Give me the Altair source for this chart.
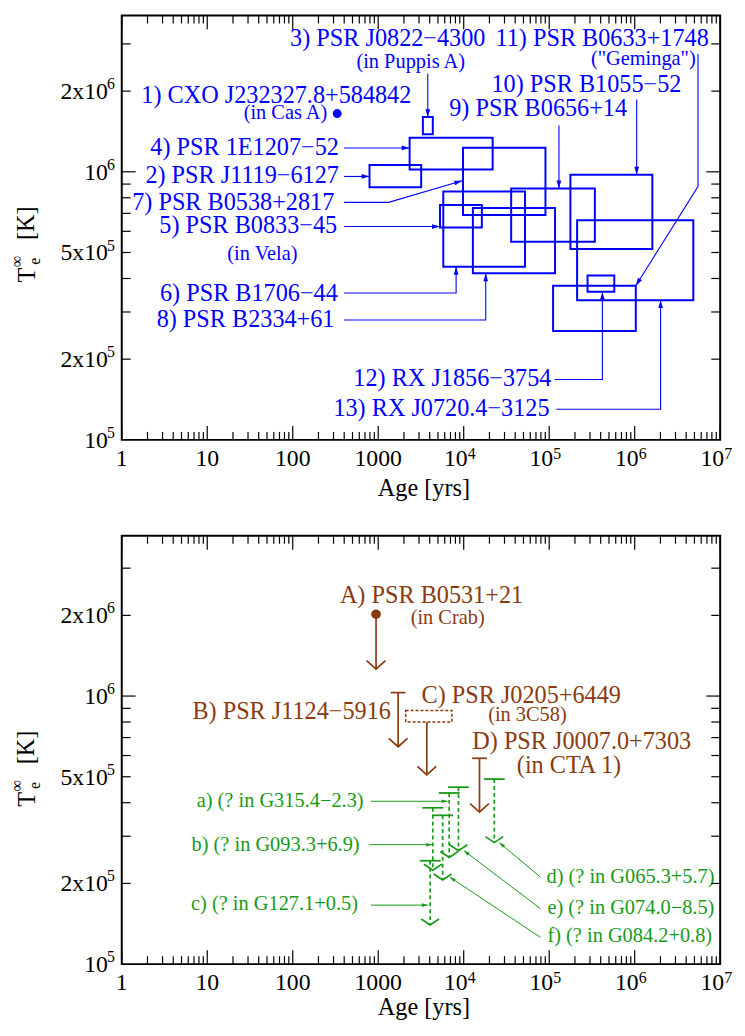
import math
import altair as alt
import pandas as pd

FONT = "Liberation Serif"
BLUE = "#0000ff"
BROWN = "#8b3a0e"
GREEN = "#189a18"

W = 605
H_TOP = 429
H_BOT = 433
DEC_PX = 271.0  # pixels per decade of temperature

FS_MAIN = 24.5
FS_SUB = 20.6
FS_TICK = 24
FS_SUP = 16

# ---------------- top panel data ----------------
box_name = ["2", "3", "4", "5", "6", "7", "8", "9", "10", "11", "12", "13"]
box_age_lo = [791, 3330, 2330, 5280, 5770, 9810, 12800, 35900, 177000, 111000, 281000, 212000]
box_age_hi = [3180, 4350, 21800, 16300, 52100, 90400, 117000, 342000, 1.61e6, 1.03e6, 577000, 4.85e6]
box_t_lo = [8.75e5, 1.38e6, 1.02e6, 6.2e5, 4.42e5, 6.9e5, 4.18e5, 5.48e5, 5.15e5, 2.55e5, 3.57e5, 3.32e5]
box_t_hi = [1.06e6, 1.60e6, 1.34e6, 7.52e5, 8.44e5, 1.23e6, 7.33e5, 8.67e5, 9.75e5, 3.76e5, 4.10e5, 6.60e5]

casa_age = [331]
casa_t = [1.65e6]

top_main_text = ["1) CXO J232327.8+584842", "3) PSR J0822\u22124300", "11) PSR B0633+1748",
                 "10) PSR B1055\u221252", "9) PSR B0656+14", "4) PSR 1E1207\u221252",
                 "2) PSR J1119\u22126127", "7) PSR B0538+2817", "5) PSR B0833\u221245",
                 "6) PSR B1706\u221244", "8) PSR B2334+61", "12) RX J1856\u22123754",
                 "13) RX J0720.4\u22123125"]
top_main_age = [2440, 17960, 7.36e6, 3.52e6, 8.15e5, 347, 347, 306, 331, 337, 308, 1.06e5, 1.01e5]
top_main_t = [1.92e6, 3.12e6, 3.12e6, 2.11e6, 1.71e6, 1.227e6, 9.61e5, 7.62e5, 6.28e5,
              3.50e5, 2.79e5, 1.68e5, 1.30e5]

top_sub_text = ["(in Cas A)", "(in Puppis A)", "(\"Geminga\")", "(in Vela)"]
top_sub_age = [254, 10360, 5.17e6, 114]
top_sub_t = [1.65e6, 2.57e6, 2.63e6, 4.94e5]

top_conn_id = ["3", "3", "4", "4", "2", "2", "7", "7", "7", "5", "5", "6", "6", "6",
               "8", "8", "8", "9", "9", "10", "10", "11", "11", "11", "12", "12", "12",
               "13", "13", "13"]
top_conn_age = [3800, 3800, 399, 2330, 399, 791, 399, 1322, 9600, 399, 5280, 399, 8150, 8150,
                399, 18100, 18100, 1.30e5, 1.30e5, 1.055e6, 1.055e6, 5.5e6, 5.5e6, 1.03e6,
                1.16e5, 4.19e5, 4.19e5, 1.21e5, 2.01e6, 2.01e6]
top_conn_t = [2.32e6, 1.60e6, 1.227e6, 1.227e6, 9.61e5, 9.61e5, 7.69e5, 7.69e5, 9.26e5,
              6.25e5, 6.25e5, 3.53e5, 3.53e5, 4.42e5, 2.80e5, 2.80e5, 4.18e5, 1.49e6, 8.67e5,
              1.86e6, 9.75e5, 2.75e6, 8.81e5, 3.76e5, 1.68e5, 1.68e5, 3.57e5, 1.30e5, 1.30e5,
              3.32e5]

# ---------------- bottom panel data ----------------
crab_age = [943]
crab_t = [2.02e6]

brown_age = [943, 1710, 3700, 15300]
brown_top = [2.02e6, 1.03e6, 8.0e5, 5.86e5]
brown_tip = [1.26e6, 6.47e5, 5.08e5, 3.69e5]
brown_cap_age = [1710, 15300]
brown_cap_t = [1.03e6, 5.86e5]

c58_age_lo = [2096]
c58_age_hi = [7270]
c58_t_lo = [8.0e5]
c58_t_hi = [8.83e5]

brown_left_text = ["A) PSR B0531+21", "C) PSR J0205+6449", "D) PSR J0007.0+7303", "(in CTA 1)"]
brown_left_age = [356, 3210, 12600, 41800]
brown_left_t = [2.36e6, 1.0e6, 6.75e5, 5.50e5]
brown_right_text = ["B) PSR J1124\u22125916"]
brown_right_age = [1406]
brown_right_t = [8.75e5]
brown_sub_text = ["(in Crab)", "(in 3C58)"]
brown_sub_age = [2395, 19300]
brown_sub_t = [1.96e6, 8.46e5]

green_id = ["a", "b", "c", "d", "e", "f"]
green_age = [6760, 4350, 4050, 22800, 8690, 5670]
green_cap = [4.35e5, 3.83e5, 2.43e5, 4.90e5, 4.57e5, 3.59e5]
green_tip = [2.50e5, 2.24e5, 1.40e5, 2.84e5, 2.65e5, 2.06e5]

green_right_text = ["a) (? in G315.4\u22122.3)", "b) (? in G093.3+6.9)", "c) (? in G127.1+0.5)"]
green_right_age = [675, 606, 580]
green_right_t = [4.05e5, 2.79e5, 1.675e5]
green_left_text = ["d) (? in G065.3+5.7)", "e) (? in G074.0\u22128.5)", "f) (? in G084.2+0.8)"]
green_left_age = [92900, 95300, 95300]
green_left_t = [2.12e5, 1.62e5, 1.27e5]

green_conn_id = ["a", "a", "b", "b", "c", "c", "d", "d", "e", "e", "f", "f"]
green_conn_age = [819, 6480, 791, 4270, 819, 3800, 79100, 26100, 79100, 10080, 79100, 6890]
green_conn_t = [4.05e5, 4.05e5, 2.79e5, 2.79e5, 1.66e5, 1.66e5, 2.11e5, 2.84e5,
                1.61e5, 2.65e5, 1.258e5, 2.11e5]

# ---------------- axis ticks ----------------
x_major = [10.0 ** k for k in range(8)]
x_minor = [m * 10.0 ** k for k in range(7) for m in range(2, 10)]
y_major = [1e6]
y_minor = [2e5, 3e5, 4e5, 5e5, 6e5, 7e5, 8e5, 9e5, 2e6, 3e6]
x_plain_val = [1, 10, 100, 1000]
x_plain_lbl = ["1", "10", "100", "1000"]
x_pow_val = [1e4, 1e5, 1e6, 1e7]
x_pow_exp = ["4", "5", "6", "7"]
y_lbl_val = [1e5, 2e5, 5e5, 1e6, 2e6]
y_lbl_base = ["10", "2x10", "5x10", "10", "2x10"]
y_lbl_exp = ["5", "5", "5", "6", "6"]

ARROW = "M0,0L-1,-0.3L-1,0.3Z"
CAP = "M-1,0L1,0"
VHEAD_B = "M-1,-0.9L0,0L1,-0.9"
VHEAD_G = "M-1,-0.67L0,0L1,-0.67"


def xsc():
    return alt.Scale(type="log", domain=[1, 1e7], nice=False)


def ysc(H):
    return alt.Scale(type="log", domain=[1e5, 10 ** (5 + H / DEC_PX)], nice=False)


def X(f):
    return alt.X(f, scale=xsc(), axis=None)


def Y(f, H):
    return alt.Y(f, scale=ysc(H), axis=None)


def px_x(a):
    return W * math.log10(a) / 7.0


def px_y(t, H):
    return H - DEC_PX * (math.log10(t) - 5)


def conn_df(ids, ages, temps):
    df = pd.DataFrame({"id": ids, "age": ages, "t": temps})
    df["seq"] = df.groupby("id").cumcount()
    return df


def tips_df(df, H):
    rows = []
    for cid, g in df.groupby("id", sort=False):
        a0, t0 = g.iloc[-2]["age"], g.iloc[-2]["t"]
        a1, t1 = g.iloc[-1]["age"], g.iloc[-1]["t"]
        dx = px_x(a1) - px_x(a0)
        dy = px_y(t1, H) - px_y(t0, H)
        ang = math.degrees(math.atan2(dy, dx)) % 360
        rows.append({"id": cid, "age": a1, "t": t1, "ang": ang})
    return pd.DataFrame(rows)


def lines(df, H, color, width):
    return alt.Chart(df).mark_line(color=color, strokeWidth=width).encode(
        x=X("age:Q"), y=Y("t:Q", H), detail="id:N", order="seq:Q")


def heads(df, H, color, size):
    return alt.Chart(df).mark_point(shape=ARROW, filled=True, size=size, color=color,
                                    opacity=1, strokeWidth=0).encode(
        x=X("age:Q"), y=Y("t:Q", H), angle=alt.Angle("ang:Q", scale=None))


def texts(txt, ages, temps, H, color, size, align):
    df = pd.DataFrame({"s": txt, "age": ages, "t": temps})
    return alt.Chart(df).mark_text(font=FONT, fontSize=size, align=align, baseline="middle",
                                   color=color).encode(
        x=X("age:Q"), y=Y("t:Q", H), text="s:N")


def fixed_text(s, x, y, size, angle=0, align="center", color="black"):
    df = pd.DataFrame({"s": [s]})
    kw = dict(font=FONT, fontSize=size, align=align, baseline="middle", color=color)
    if angle:
        kw["angle"] = angle
    return alt.Chart(df).mark_text(**kw).encode(
        text="s:N", x=alt.value(x), y=alt.value(y))


def axis_layers(H, xtitle_dy):
    L = []
    for vals, ln in ((x_major, 14), (x_minor, 8)):
        d = pd.DataFrame({"v": vals})
        L.append(alt.Chart(d).mark_rule(color="black", strokeWidth=1.2).encode(
            x=X("v:Q"), y=alt.value(H), y2=alt.value(H - ln)))
        L.append(alt.Chart(d).mark_rule(color="black", strokeWidth=1.2).encode(
            x=X("v:Q"), y=alt.value(0), y2=alt.value(ln)))
    for vals, ln in ((y_major, 14), (y_minor, 9)):
        d = pd.DataFrame({"v": vals})
        L.append(alt.Chart(d).mark_rule(color="black", strokeWidth=1.2).encode(
            y=Y("v:Q", H), x=alt.value(0), x2=alt.value(ln)))
        L.append(alt.Chart(d).mark_rule(color="black", strokeWidth=1.2).encode(
            y=Y("v:Q", H), x=alt.value(W), x2=alt.value(W - ln)))
    d = pd.DataFrame({"v": x_plain_val, "s": x_plain_lbl})
    L.append(alt.Chart(d).mark_text(font=FONT, fontSize=FS_TICK, align="center", baseline="middle",
                                    color="black").encode(
        x=X("v:Q"), y=alt.value(H + 19), text="s:N"))
    d = pd.DataFrame({"v": x_pow_val, "b": ["10"] * len(x_pow_val), "e": x_pow_exp})
    L.append(alt.Chart(d).mark_text(font=FONT, fontSize=FS_TICK, align="right", baseline="middle",
                                    dx=4, color="black").encode(
        x=X("v:Q"), y=alt.value(H + 19), text="b:N"))
    L.append(alt.Chart(d).mark_text(font=FONT, fontSize=FS_SUP, align="left", baseline="middle",
                                    dx=4, color="black").encode(
        x=X("v:Q"), y=alt.value(H + 14), text="e:N"))
    d = pd.DataFrame({"v": y_lbl_val, "b": y_lbl_base, "e": y_lbl_exp})
    L.append(alt.Chart(d).mark_text(font=FONT, fontSize=FS_TICK, align="right", baseline="middle",
                                    dy=1, color="black").encode(
        y=Y("v:Q", H), x=alt.value(-14), text="b:N"))
    L.append(alt.Chart(d).mark_text(font=FONT, fontSize=FS_SUP, align="right", baseline="middle",
                                    dy=-7, color="black").encode(
        y=Y("v:Q", H), x=alt.value(-7), text="e:N"))
    L.append(fixed_text("Age [yrs]", W / 2 + 3, H + xtitle_dy, 24.5))
    L.append(fixed_text("T", -94.5, H - 166.5, 24.5, angle=270))
    L.append(fixed_text("e", -87.4, H - 180.5, 16, angle=270))
    L.append(fixed_text("\u221e", -105.8, H - 180.5, 16, angle=270))
    L.append(fixed_text("[K]", -95.5, H - 219, 24.5, angle=270))
    return L


# ---------------- top panel ----------------
H = H_TOP
boxes = pd.DataFrame({"id": box_name, "lo": box_age_lo, "hi": box_age_hi,
                      "tlo": box_t_lo, "thi": box_t_hi})
tconn = conn_df(top_conn_id, top_conn_age, top_conn_t)
top_layers = [
    alt.Chart(boxes).mark_rect(fill="transparent", stroke=BLUE, strokeWidth=2).encode(
        x=X("lo:Q"), x2="hi:Q", y=Y("tlo:Q", H), y2="thi:Q"),
    alt.Chart(pd.DataFrame({"age": casa_age, "t": casa_t})).mark_circle(
        size=80, color=BLUE, opacity=1).encode(x=X("age:Q"), y=Y("t:Q", H)),
    lines(tconn, H, BLUE, 1.1),
    heads(tips_df(tconn, H), H, BLUE, 256),
    texts(top_main_text, top_main_age, top_main_t, H, BLUE, FS_MAIN, "right"),
    texts(top_sub_text, top_sub_age, top_sub_t, H, BLUE, FS_SUB, "right"),
] + axis_layers(H, 49.5)
top = alt.layer(*top_layers).properties(width=W, height=H)

# ---------------- bottom panel ----------------
H = H_BOT
bstem = pd.DataFrame({"age": brown_age, "top": brown_top, "tip": brown_tip})
bcap = pd.DataFrame({"age": brown_cap_age, "t": brown_cap_t})
c58 = pd.DataFrame({"lo": c58_age_lo, "hi": c58_age_hi, "tlo": c58_t_lo, "thi": c58_t_hi})
gl = pd.DataFrame({"id": green_id, "age": green_age, "cap": green_cap, "tip": green_tip})
gconn = conn_df(green_conn_id, green_conn_age, green_conn_t)
bot_layers = [
    alt.Chart(pd.DataFrame({"age": crab_age, "t": crab_t})).mark_circle(
        size=95, color=BROWN, opacity=1).encode(x=X("age:Q"), y=Y("t:Q", H)),
    alt.Chart(bstem).mark_rule(color=BROWN, strokeWidth=1.7).encode(
        x=X("age:Q"), y=Y("top:Q", H), y2="tip:Q"),
    alt.Chart(bcap).mark_point(shape=CAP, filled=False, size=225, color=BROWN,
                               strokeWidth=1.7, opacity=1).encode(
        x=X("age:Q"), y=Y("t:Q", H)),
    alt.Chart(bstem).mark_point(shape=VHEAD_B, filled=False, size=361, color=BROWN,
                                strokeWidth=1.7, opacity=1).encode(
        x=X("age:Q"), y=Y("tip:Q", H)),
    alt.Chart(c58).mark_rect(fill="transparent", stroke=BROWN, strokeWidth=1.5,
                             strokeDash=[3, 2]).encode(
        x=X("lo:Q"), x2="hi:Q", y=Y("tlo:Q", H), y2="thi:Q"),
    texts(brown_left_text, brown_left_age, brown_left_t, H, BROWN, FS_MAIN, "left"),
    texts(brown_right_text, brown_right_age, brown_right_t, H, BROWN, FS_MAIN, "right"),
    texts(brown_sub_text, brown_sub_age, brown_sub_t, H, BROWN, FS_SUB, "left"),
    alt.Chart(gl).mark_rule(color=GREEN, strokeWidth=1.7, strokeDash=[4, 3]).encode(
        x=X("age:Q"), y=Y("cap:Q", H), y2="tip:Q"),
    alt.Chart(gl).mark_point(shape=CAP, filled=False, size=441, color=GREEN,
                             strokeWidth=1.8, opacity=1).encode(
        x=X("age:Q"), y=Y("cap:Q", H)),
    alt.Chart(gl).mark_point(shape=VHEAD_G, filled=False, size=324, color=GREEN,
                             strokeWidth=1.7, opacity=1).encode(
        x=X("age:Q"), y=Y("tip:Q", H)),
    lines(gconn, H, GREEN, 1.0),
    heads(tips_df(gconn, H), H, GREEN, 144),
    texts(green_right_text, green_right_age, green_right_t, H, GREEN, FS_SUB, "right"),
    texts(green_left_text, green_left_age, green_left_t, H, GREEN, FS_SUB, "left"),
] + axis_layers(H, 44.5)
bot = alt.layer(*bot_layers).properties(width=W, height=H)

PAD = {"left": 0, "top": 0, "right": 4, "bottom": 4}
chart = alt.vconcat(top, bot, spacing=97, bounds="flush", padding=PAD).resolve_scale(
    x="independent", y="independent"
).configure_view(stroke="black", strokeWidth=2)

chart.save("out.html", embed_options={"renderer": "svg", "actions": False})
